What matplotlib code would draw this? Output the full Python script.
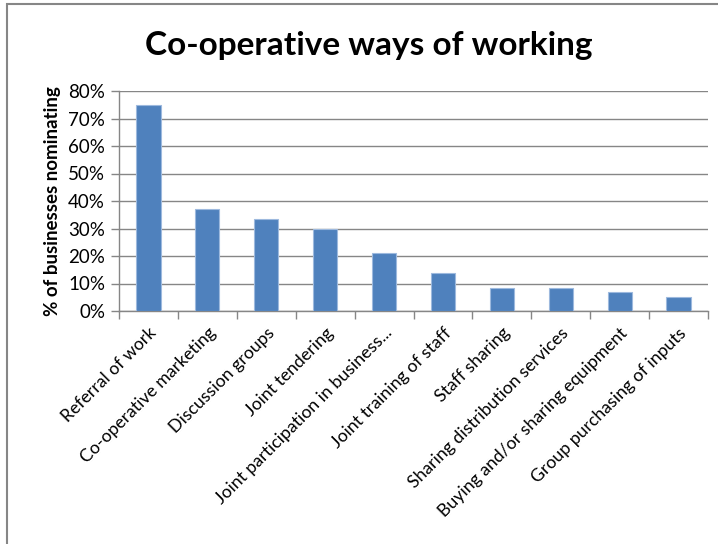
import matplotlib
matplotlib.use("Agg")
import matplotlib.pyplot as plt
from matplotlib.ticker import PercentFormatter, FixedLocator
from matplotlib.patches import Rectangle

categories = [
    "Referral of work",
    "Co-operative marketing",
    "Discussion groups",
    "Joint tendering",
    "Joint participation in business...",
    "Joint training of staff",
    "Staff sharing",
    "Sharing distribution services",
    "Buying and/or sharing equipment",
    "Group purchasing of inputs",
]
values = [75, 37, 33.5, 30, 21, 14, 8.5, 8.5, 7, 5]
yticks = [0, 10, 20, 30, 40, 50, 60, 70, 80]

plt.rcParams["font.family"] = ["Lato", "DejaVu Sans"]

fig = plt.figure(figsize=(7.18, 5.44), dpi=100)
ax = fig.add_axes([119 / 718, 1 - 311 / 544, 589 / 718, 220 / 544])

grey = "#868686"
x = list(range(len(categories)))
ax.bar(x, values, width=0.41, color="#4F81BD", edgecolor="#9DB9DE", linewidth=0.8, zorder=3)

ax.set_xlim(-0.5, len(categories) - 0.5)
ax.set_ylim(0, 80)
ax.set_yticks(yticks)
ax.yaxis.set_major_formatter(PercentFormatter(decimals=0))
ax.grid(axis="y", color=grey, linewidth=1, zorder=0)

ax.set_xticks(x)
ax.set_xticklabels(categories, rotation=45, ha="right", rotation_mode="anchor", fontsize=12.7)
ax.tick_params(axis="x", which="major", length=0, pad=10)
ax.xaxis.set_minor_locator(FixedLocator([i - 0.5 for i in range(len(categories) + 1)]))
ax.tick_params(axis="x", which="minor", length=6, color=grey, width=1)
ax.tick_params(axis="y", length=6, color=grey, width=1, labelsize=13.5, pad=4)

for side in ("top", "right"):
    ax.spines[side].set_visible(False)
for side in ("left", "bottom"):
    ax.spines[side].set_color(grey)
    ax.spines[side].set_linewidth(1)

ax.set_ylabel("% of businesses nominating", fontsize=13.5, fontweight="bold", labelpad=5)

fig.text(369 / 718, 1 - 46 / 544, "Co-operative ways of working",
         ha="center", va="center", fontsize=24, fontweight="bold")

# outer frame of the chart area
fig.patches.append(Rectangle((7 / 718, -0.05), 1.2, 1.05 - 4 / 544,
                             transform=fig.transFigure, fill=False,
                             edgecolor=grey, linewidth=1.5))

fig.savefig("out.png", dpi=100)
